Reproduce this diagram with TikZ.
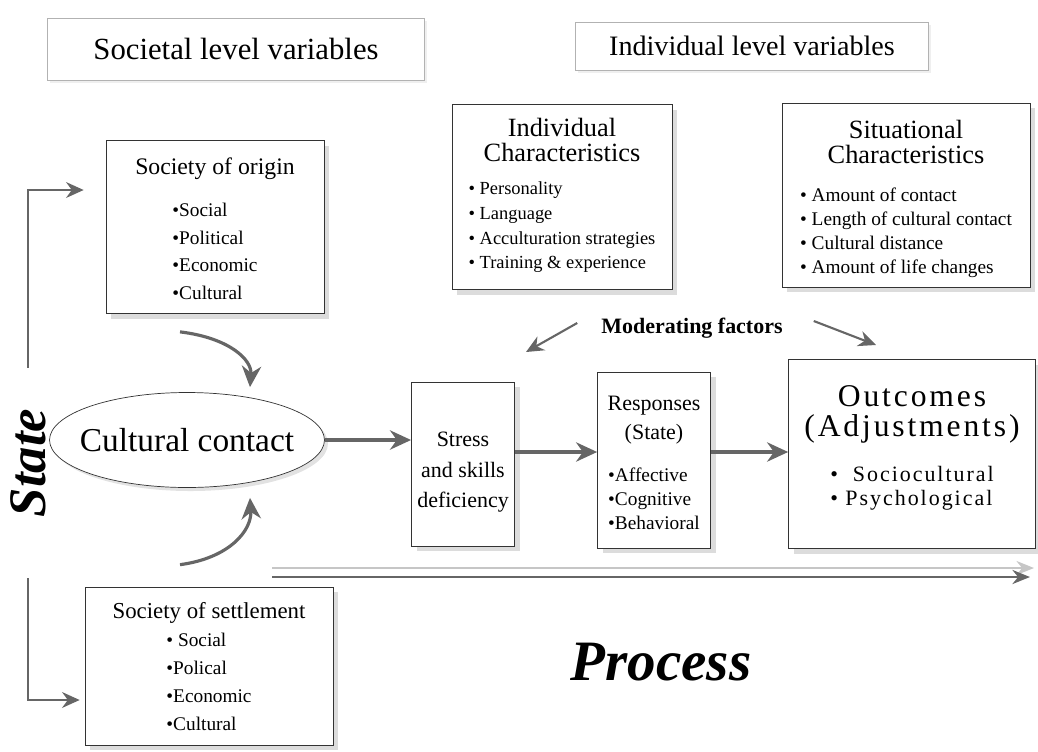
\documentclass[tikz,border=0pt]{standalone}
\usepackage{fontspec}
\setmainfont{Liberation Serif}
\usetikzlibrary{shapes.geometric, arrows.meta, shadows}
\usetikzlibrary{positioning}
\newcommand{\bulletlist}[3]{{\fontsize{#1}{#2}\selectfont\begin{tabular}[t]{@{}l@{}}#3\end{tabular}}}
\newcommand{\topgap}[1]{\rule{0pt}{#1}}
\tikzstyle{header} = [rectangle, draw=gray!60, fill=white, text centered, drop shadow={shadow xshift=1.5pt, shadow yshift=-1.5pt, fill=gray!25}]
\tikzstyle{society} = [rectangle, draw=black!80, fill=white, align=center, drop shadow={shadow xshift=3pt, shadow yshift=-3pt, fill=gray!55}]
\tikzstyle{factor} = [rectangle, draw=black!80, fill=white, align=center, drop shadow={shadow xshift=3pt, shadow yshift=-3pt, fill=gray!55}]
\tikzstyle{stage} = [rectangle, draw=black!80, fill=white, align=center, drop shadow={shadow xshift=3pt, shadow yshift=-3pt, fill=gray!55}]
\tikzstyle{arrow} = [line width=1.8pt, draw=black!60, -{Stealth[length=12pt,width=11pt]}]
\tikzstyle{thinarrow} = [line width=1.2pt, draw=black!60, -{Stealth[length=10pt,width=9pt]}]

\begin{document}
\begin{tikzpicture}[x=0.02cm, y=-0.02cm]
    \useasboundingbox (0,0) rectangle (1038,751);

        % Headers
        \node (societal) [header, minimum width=7.54cm, minimum height=1.24cm, font=\fontsize{17.5}{20}\selectfont] at (236,49) {Societal level variables};
        \node (individual) [header, minimum width=7.06cm, minimum height=0.96cm, font=\fontsize{16}{19}\selectfont] at (752,46) {Individual level variables};

        % Society boxes
        \node (origin) [society, minimum width=4.36cm, minimum height=3.44cm, font=\fontsize{13.5}{16}\selectfont] at (215,227)
            {\topgap{16pt}Society of origin\\[8pt]
             \bulletlist{11}{15.7}{\textbullet Social\\ \textbullet Political\\ \textbullet Economic\\ \textbullet Cultural}};
        \node (settlement) [society, minimum width=4.96cm, minimum height=3.16cm, font=\fontsize{13}{15.5}\selectfont] at (209,666)
            {\topgap{14.7pt}Society of settlement\\
             \bulletlist{11}{16}{\textbullet\ Social\\ \textbullet Polical\\ \textbullet Economic\\ \textbullet Cultural}};

        % Moderating factor boxes
        \node (indchar) [factor, minimum width=4.4cm, minimum height=3.7cm, font=\fontsize{15}{14.2}\selectfont] at (562,197)
            {Individual\\ Characteristics\\[5pt]
             \bulletlist{10.5}{14}{\textbullet\ Personality\\ \textbullet\ Language\\ \textbullet\ Acculturation strategies\\ \textbullet\ Training \&\ experience}};
        \node (sitchar) [factor, minimum width=4.96cm, minimum height=3.64cm, font=\fontsize{15}{14.2}\selectfont] at (906,195)
            {\topgap{17pt}Situational\\ Characteristics\\[7pt]
             \bulletlist{11}{13.8}{\textbullet\ Amount of contact\\ \textbullet\ Length of cultural contact\\ \textbullet\ Cultural distance\\ \textbullet\ Amount of life changes}};
        \node (moderating) [font=\fontsize{12.5}{15}\selectfont\bfseries] at (692,328) {Moderating factors};

        % Process stages
        \node (contact) [ellipse, draw=black!80, fill=white, minimum width=5.5cm, minimum height=1.9cm, inner xsep=-0.2cm, font=\fontsize{19}{22}\selectfont, drop shadow={shadow xshift=2pt, shadow yshift=-2pt, fill=gray!45}] at (187,440) {Cultural contact};
        \node (stress) [stage, minimum width=1.94cm, minimum height=3.28cm, font=\fontsize{12.5}{17.6}\selectfont] at (463,464) {\topgap{17.5pt}Stress\\ and skills\\ deficiency};
        \node (responses) [stage, minimum width=2.26cm, minimum height=3.52cm, font=\fontsize{12.5}{16.4}\selectfont] at (654,460)
            {\topgap{15.3pt}Responses\\ (State)\\[7.4pt]
             \bulletlist{11}{13.6}{\textbullet Affective\\ \textbullet Cognitive\\ \textbullet Behavioral}};
        \node (outcomes) [stage, minimum width=4.94cm, minimum height=3.76cm, font=\fontsize{18}{17}\selectfont\addfontfeature{LetterSpace=9}] at (912,454)
            {\topgap{23.5pt}Outcomes\\ (Adjustments)\\[8.5pt]
             \bulletlist{12.5}{13.6}{\textbullet\ \ Sociocultural\\ \textbullet\ Psychological}\\[16pt]};

        % Axis labels
        \node (state) [rotate=90, font=\fontsize{30}{32}\selectfont\bfseries\itshape] at (28,463) {State};
        \node (process) [font=\fontsize{32.5}{36}\selectfont\bfseries\itshape] at (661,662) {Process};

        % Free ends
        \coordinate (modL) at (526,352);
        \coordinate (modR) at (876,345);
        \coordinate (procA) at (272,568);
        \coordinate (procB) at (1034,568);
        \coordinate (procC) at (272,577);
        \coordinate (procD) at (1030,577);

        % Arrows
        \draw [thinarrow, shorten <=0.7cm] (state.east) |- ([xshift=-0.44cm, yshift=0.74cm]origin.west);
        \draw [thinarrow, shorten <=1.1cm] (state.west) |- ([xshift=-0.1cm, yshift=-0.68cm]settlement.west);
        \draw [arrow] ([xshift=-0.7cm, yshift=-0.36cm]origin.south) .. controls (230,338) and (252,360) .. ([xshift=1.26cm, yshift=0.1cm]contact.north);
        \draw [arrow] ([xshift=-0.58cm, yshift=0.44cm]settlement.north) .. controls (230,558) and (252,530) .. ([xshift=1.26cm, yshift=-0.2cm]contact.south);
        \draw [arrow] (contact.east) -- (stress.west |- contact.east);
        \draw [arrow] ([yshift=0.24cm]stress.east) -- ([yshift=0.24cm]stress.east -| responses.west);
        \draw [arrow] ([yshift=0.16cm]responses.east) -- ([yshift=0.16cm]responses.east -| outcomes.west);
        \draw [thinarrow] ([xshift=-0.36cm, yshift=0.1cm]moderating.west) -- (modL);
        \draw [thinarrow] ([xshift=0.5cm, yshift=0.14cm]moderating.east) -- (modR);
        \draw [line width=1.2pt, draw=gray!45, -{Stealth[length=10pt,width=8pt]}] (procA) -- (procB);
        \draw [line width=1.6pt, draw=black!60, -{Stealth[length=10pt,width=8pt]}] (procC) -- (procD);

\end{tikzpicture}
\end{document}
